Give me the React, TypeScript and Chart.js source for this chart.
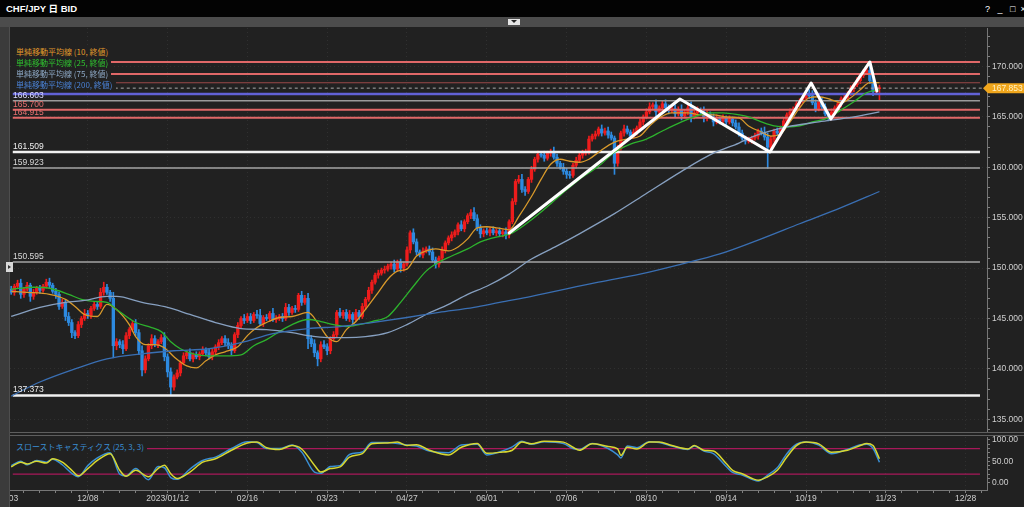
import React, { useEffect, useRef } from 'react';
import { Chart, registerables } from 'chart.js';

Chart.register(...registerables);

const FONT = "'Liberation Sans', Arial, 'Noto Sans CJK JP', sans-serif";
const CJK = "'Noto Sans CJK JP', 'Liberation Sans', sans-serif";

// ---------- data ----------
const dateLabels = ['11/03', '12/08', '2023/01/12', '02/16', '03/23', '04/27', '06/01', '07/06', '08/10', '09/14', '10/19', '11/23', '12/28'];
const dateTickStep = 25; // trading days between date labels

const firstOpen = 147.9;
const closes = [
  147.6, 148.2, 148.5, 147.4, 147.9, 148.3, 147.2, 147.6, 148.0, 147.8, 148.2, 148.6, 148.3, 147.7, 147.4, 146.2, 146.6, 145.2, 144.6, 143.6, 143.3, 144.4, 145.0, 145.5, 145.3,
  146.0, 146.4, 146.2, 147.6, 148.1, 147.6, 147.0, 142.3, 142.7, 142.4, 142.0, 143.3, 143.9, 144.5, 143.6, 141.8, 139.9, 141.0, 142.3, 143.0, 142.4, 142.7, 143.1, 141.2, 139.7,
  138.2, 139.2, 139.6, 140.6, 141.3, 141.6, 141.0, 141.4, 141.2, 141.5, 141.9, 141.6, 141.2, 141.7, 142.2, 142.6, 143.0, 142.6, 142.3, 141.8, 143.4, 144.3, 145.0, 144.8, 145.2,
  144.8, 145.4, 145.3, 144.5, 145.1, 145.0, 145.5, 144.9, 145.0, 145.2, 145.0, 146.1, 145.6, 146.0, 145.9, 147.3, 146.6, 147.0, 143.0, 142.5, 141.6, 141.0, 142.4, 142.2, 141.8,
  143.0, 143.4, 145.6, 145.3, 145.6, 145.0, 145.4, 144.9, 145.6, 145.2, 146.2, 146.9, 147.8, 148.6, 149.3, 149.5, 149.8, 149.9, 150.2, 150.4, 149.9, 150.6, 150.0, 150.4, 151.8,
  153.5, 152.6, 151.6, 151.3, 151.7, 151.9, 151.6, 150.8, 150.4, 151.0, 151.8, 152.5, 153.0, 153.3, 153.6, 154.3, 153.9, 154.6, 155.2, 155.5, 154.9, 154.0, 153.4, 153.7, 153.5,
  153.8, 153.5, 153.7, 153.4, 153.6, 153.3, 154.6, 156.6, 158.6, 158.8, 157.8, 157.6, 158.8, 159.8, 160.8, 161.3, 161.2, 160.9, 161.4, 161.5, 161.0, 160.4, 160.0, 159.6, 159.3,
  159.2, 160.2, 160.7, 161.2, 161.4, 161.6, 162.8, 163.1, 163.3, 163.8, 163.4, 163.6, 163.2, 162.9, 160.4, 161.9, 163.4, 163.8, 163.5, 163.1, 163.5, 163.9, 164.5, 165.0, 165.5,
  166.0, 166.2, 165.5, 165.9, 166.3, 165.9, 165.6, 165.8, 165.3, 165.7, 165.1, 165.5, 165.9, 165.0, 165.4, 165.7, 165.5, 164.9, 165.3, 165.0, 164.5, 164.8, 164.6, 164.9, 164.5,
  164.8, 164.4, 164.0, 163.4, 162.9, 162.6, 162.7, 162.9, 163.1, 163.6, 163.4, 163.0, 162.0, 162.8, 163.6, 163.4, 163.9, 164.6, 165.2, 165.5, 165.8, 166.3, 166.6, 166.9, 167.3,
  167.1, 166.4, 165.8, 166.5, 166.0, 165.3, 164.9, 165.5, 165.9, 166.3, 166.8, 166.9, 167.3, 167.8, 168.2, 168.6, 169.1, 169.4, 169.6, 168.6, 167.5, 167.8, 167.853,
];
const upperWicks = [
  0.3, 0.2, 0.3, 0.4, 0.2, 0.3, 0.2, 0.3, 0.2, 0.3, 0.2, 0.3, 0.4, 0.2, 0.3, 0.2, 0.3, 0.2, 0.4, 0.3, 0.2, 0.3, 0.2, 0.4, 0.3,
  0.2, 0.3, 0.2, 0.4, 0.5, 0.3, 0.2, 0.6, 0.3, 0.2, 0.4, 0.3, 0.2, 0.3, 0.4, 0.3, 0.5, 0.3, 0.2, 0.4, 0.3, 0.2, 0.3, 0.5, 0.3,
  0.4, 0.2, 0.3, 0.2, 0.3, 0.2, 0.4, 0.2, 0.3, 0.2, 0.3, 0.2, 0.4, 0.3, 0.2, 0.3, 0.2, 0.3, 0.4, 0.3, 0.2, 0.3, 0.2, 0.4, 0.3,
  0.3, 0.2, 0.4, 0.6, 0.2, 0.3, 0.2, 0.5, 0.3, 0.2, 0.3, 0.4, 0.3, 0.2, 0.3, 0.2, 0.4, 0.3, 0.5, 0.3, 0.4, 0.2, 0.3, 0.4, 0.3,
  0.2, 0.3, 0.2, 0.4, 0.2, 0.3, 0.4, 0.2, 0.3, 0.2, 0.3, 0.2, 0.3, 0.2, 0.2, 0.3, 0.2, 0.3, 0.2, 0.2, 0.4, 0.2, 0.3, 0.2, 0.3,
  0.2, 0.4, 0.3, 0.2, 0.3, 0.2, 0.3, 0.4, 0.3, 0.2, 0.3, 0.2, 0.2, 0.3, 0.2, 0.2, 0.4, 0.2, 0.2, 0.3, 0.5, 0.4, 0.3, 0.2, 0.3,
  0.2, 0.3, 0.2, 0.3, 0.2, 0.4, 0.2, 0.3, 0.2, 0.4, 0.5, 0.3, 0.2, 0.3, 0.2, 0.3, 0.2, 0.4, 0.2, 0.3, 0.5, 0.3, 0.2, 0.4, 0.3,
  0.3, 0.2, 0.3, 0.2, 0.3, 0.2, 0.3, 0.2, 0.3, 0.2, 0.4, 0.3, 0.4, 0.3, 0.2, 0.3, 0.2, 0.4, 0.3, 0.2, 0.3, 0.2, 0.3, 0.2, 0.3,
  0.4, 0.2, 0.5, 0.2, 0.3, 0.4, 0.3, 0.2, 0.4, 0.3, 0.5, 0.2, 0.3, 0.6, 0.2, 0.3, 0.2, 0.5, 0.3, 0.2, 0.3, 0.4, 0.2, 0.3, 0.2,
  0.3, 0.2, 0.3, 0.4, 0.3, 0.2, 0.3, 0.2, 0.3, 0.2, 0.3, 0.6, 0.4, 0.3, 0.2, 0.3, 0.2, 0.3, 0.2, 0.3, 0.2, 0.3, 0.2, 0.3, 0.2,
  0.4, 0.5, 0.3, 0.2, 0.4, 0.3, 0.2, 0.3, 0.2, 0.3, 0.2, 0.3, 0.2, 0.3, 0.2, 0.3, 0.2, 0.3, 0.4, 0.5, 0.3, 0.4, 0.3,
];
const lowerWicks = [
  0.2, 0.3, 0.2, 0.4, 0.3, 0.2, 0.5, 0.3, 0.2, 0.3, 0.2, 0.2, 0.3, 0.2, 0.4, 0.3, 0.2, 0.4, 0.3, 0.5, 0.3, 0.2, 0.3, 0.2, 0.3,
  0.3, 0.2, 0.3, 0.2, 0.3, 0.2, 0.3, 1.2, 0.4, 0.3, 0.5, 0.2, 0.3, 0.2, 0.3, 0.4, 0.6, 0.3, 0.2, 0.3, 0.2, 0.3, 0.2, 0.4, 0.5,
  0.8, 0.3, 0.2, 0.3, 0.2, 0.3, 0.2, 0.3, 0.2, 0.3, 0.2, 0.3, 0.2, 0.3, 0.2, 0.3, 0.2, 0.3, 0.3, 0.4, 0.2, 0.3, 0.2, 0.3, 0.2,
  0.3, 0.2, 0.3, 0.2, 0.3, 0.2, 0.3, 0.2, 0.3, 0.2, 0.3, 0.2, 0.3, 0.2, 0.3, 0.2, 0.3, 0.2, 1.0, 0.3, 0.4, 0.7, 0.3, 0.2, 0.4,
  0.3, 0.2, 0.3, 0.2, 0.3, 0.2, 0.3, 0.4, 0.2, 0.3, 0.2, 0.3, 0.2, 0.3, 0.2, 0.3, 0.2, 0.3, 0.2, 0.3, 0.3, 0.2, 0.4, 0.3, 0.2,
  0.3, 0.2, 0.3, 0.2, 0.3, 0.2, 0.3, 0.2, 0.4, 0.3, 0.2, 0.3, 0.2, 0.3, 0.2, 0.3, 0.2, 0.3, 0.2, 0.3, 0.2, 0.3, 0.4, 0.3, 0.2,
  0.3, 0.2, 0.3, 0.2, 0.3, 0.4, 0.3, 0.2, 0.3, 0.2, 0.3, 0.4, 0.2, 0.3, 0.2, 0.3, 0.2, 0.3, 0.2, 0.3, 0.2, 0.3, 0.2, 0.3, 0.4,
  0.3, 0.2, 0.3, 0.2, 0.3, 0.2, 0.3, 0.2, 0.3, 0.2, 0.3, 0.2, 0.3, 0.2, 1.1, 0.3, 0.2, 0.3, 0.2, 0.3, 0.2, 0.3, 0.2, 0.3, 0.2,
  0.2, 0.3, 0.4, 0.2, 0.3, 0.2, 0.3, 0.2, 0.3, 0.2, 0.4, 0.2, 0.3, 0.5, 0.2, 0.3, 0.2, 0.4, 0.3, 0.2, 0.4, 0.2, 0.3, 0.2, 0.3,
  0.2, 0.3, 0.2, 0.3, 0.2, 0.3, 0.2, 0.3, 0.2, 0.3, 0.2, 0.3, 2.1, 0.2, 0.3, 0.2, 0.3, 0.2, 0.3, 0.2, 0.3, 0.2, 0.3, 0.2, 0.3,
  0.3, 0.2, 0.3, 0.2, 0.3, 0.2, 0.3, 0.2, 0.3, 0.2, 0.3, 0.2, 0.3, 0.2, 0.3, 0.2, 0.3, 0.2, 0.2, 0.3, 0.4, 0.3, 1.1,
];

const sma10Days = [1, 6, 13, 18, 21, 24, 28, 31, 34, 38, 40, 43, 46, 49, 52, 56, 59, 62, 65, 68, 72, 75, 78, 81, 85, 89, 94, 97, 100, 103, 106, 109, 112, 116, 119, 122, 125, 128, 131, 134, 138, 141, 144, 147, 150, 153, 157, 160, 164, 167, 170, 173, 176, 179, 182, 185, 190, 194, 198, 201, 204, 208, 213, 217, 221, 225, 229, 232, 236, 239, 242, 245, 248, 251, 254, 258, 261, 264, 267, 270, 273];
const sma10Values = [147.7, 147.6, 147.4, 146.9, 146.2, 145.4, 145.2, 146.4, 145.9, 144.4, 143.2, 142.4, 142.4, 142.1, 141.2, 140.3, 140.1, 140.8, 141.4, 141.7, 142.2, 143.3, 144.1, 144.6, 145.1, 145.2, 145.6, 144.6, 143.2, 142.7, 143.9, 144.7, 145.9, 147.6, 148.9, 149.7, 149.9, 151.2, 151.7, 151.9, 151.7, 152.1, 152.9, 154.0, 154.1, 154.0, 153.8, 155.1, 157.1, 158.8, 160.3, 160.8, 160.6, 160.5, 160.8, 161.5, 162.5, 162.8, 163.1, 164.1, 164.9, 165.4, 165.4, 165.2, 165.2, 165.0, 164.9, 164.1, 163.5, 163.1, 163.3, 164.5, 165.9, 166.9, 167.0, 166.7, 166.4, 166.9, 167.7, 168.4, 168.4];
const sma25Days = [1, 8, 13, 19, 23, 27, 31, 34, 40, 45, 48, 51, 54, 58, 63, 68, 73, 77, 81, 85, 89, 94, 98, 102, 106, 110, 114, 119, 123, 127, 131, 135, 139, 144, 148, 152, 158, 164, 169, 174, 179, 185, 190, 195, 200, 205, 211, 215, 219, 224, 229, 232, 236, 240, 244, 248, 252, 257, 261, 265, 269, 273];
const sma25Values = [147.9, 148.1, 148.0, 147.4, 146.9, 146.7, 146.6, 145.9, 144.6, 144.1, 143.7, 142.7, 142.0, 141.5, 141.3, 141.3, 141.4, 142.3, 142.9, 143.7, 144.4, 144.9, 144.7, 144.4, 144.2, 144.4, 144.7, 145.2, 146.6, 148.2, 149.7, 150.6, 151.2, 151.9, 152.6, 153.0, 153.5, 154.8, 156.1, 157.5, 158.8, 160.1, 161.5, 162.3, 162.8, 163.6, 164.5, 165.0, 165.4, 165.4, 165.2, 165.0, 164.5, 164.1, 164.0, 164.1, 164.5, 164.9, 165.7, 166.5, 167.4, 167.7];
const sma75Days = [1, 10, 18, 24, 31, 34, 42, 50, 57, 65, 73, 81, 89, 94, 100, 106, 112, 119, 125, 131, 138, 144, 150, 157, 164, 172, 179, 190, 200, 211, 221, 229, 233, 244, 254, 265, 273];
const sma75Values = [145.2, 146.1, 146.6, 146.8, 147.2, 147.2, 146.6, 146.1, 145.4, 144.6, 144.0, 143.9, 143.6, 143.3, 143.1, 143.1, 143.2, 143.6, 144.4, 145.4, 146.4, 147.4, 148.2, 149.4, 150.9, 152.2, 153.4, 155.4, 157.4, 159.6, 161.4, 162.4, 163.0, 164.0, 164.5, 165.0, 165.5];
const sma200Days = [1, 10, 21, 31, 42, 52, 63, 73, 83, 94, 104, 114, 125, 135, 146, 154, 164, 185, 198, 211, 223, 236, 248, 261, 273];
const sma200Values = [137.3, 138.7, 140.0, 141.0, 141.5, 141.8, 142.0, 142.6, 143.5, 144.0, 144.2, 144.6, 145.1, 145.6, 146.1, 146.6, 147.2, 148.6, 149.4, 150.4, 151.4, 152.9, 154.4, 156.0, 157.6];

const stochDays = [1, 4, 6, 9, 12, 14, 17, 20, 22, 25, 28, 32, 35, 37, 40, 44, 47, 49, 51, 53, 57, 61, 65, 70, 75, 78, 81, 85, 89, 92, 96, 98, 101, 104, 107, 111, 114, 119, 122, 125, 128, 132, 138, 142, 147, 150, 154, 158, 161, 164, 168, 174, 177, 179, 183, 188, 191, 192, 194, 197, 201, 204, 208, 213, 215, 218, 221, 225, 227, 230, 235, 238, 241, 244, 247, 250, 254, 258, 263, 267, 269, 271, 273];
const stochK = [40, 50, 42, 52, 48, 55, 42, 22, 14, 40, 58, 70, 20, 16, 33, 7, 38, 35, 12, 8, 32, 52, 60, 80, 96, 94, 80, 80, 88, 72, 25, 22, 38, 40, 66, 72, 94, 94, 92, 88, 86, 74, 70, 88, 90, 65, 72, 84, 97, 90, 96, 92, 80, 78, 92, 80, 65, 58, 86, 82, 96, 94, 86, 78, 86, 74, 68, 38, 24, 18, 4, 18, 35, 68, 90, 95, 88, 68, 78, 89, 90, 80, 48];
const stochD = [37, 48, 44, 50, 46, 56, 48, 29, 16, 33, 52, 68, 29, 15, 29, 14, 33, 41, 21, 10, 25, 48, 56, 76, 93, 95, 82, 78, 87, 79, 41, 25, 33, 37, 60, 68, 91, 93, 95, 87, 89, 76, 65, 83, 92, 69, 71, 76, 95, 91, 97, 95, 83, 76, 91, 85, 79, 64, 83, 79, 95, 95, 87, 79, 87, 76, 74, 45, 29, 21, 6, 14, 29, 60, 87, 95, 91, 71, 76, 87, 92, 87, 56];
const stochLevels = [80, 20];

const levelValues = [170.45, 169.26, 168.39, 167.853, 167.27, 166.603, 165.7, 164.915, 161.509, 159.923, 150.595, 137.373];
const levelLabels = ['', '', '', '', '', '166.603', '165.700', '164.915', '161.509', '159.923', '150.595', '137.373'];

const zigzagDays = [157, 210.5, 238.7, 251.6, 257.8, 270, 272.2];
const zigzagValues = [153.48, 166.78, 161.52, 168.36, 164.79, 170.45, 167.57];

const lastPrice = 167.853;

// ---------- styles / layout ----------
const X_MIN = 0.63;
const X_MAX = 306.7;
const LEVEL_START = 1.5;
const LEVEL_END = 304.5;
const UP = '#ee1c1c';
const DOWN = '#2d8ae0';
const RED_LINE = '#e06868';
const levelStyles = [
  { color: RED_LINE, width: 2 },
  { color: RED_LINE, width: 2 },
  { color: '#9a4848', width: 1.2 },
  { color: '#a8a8a8', width: 1, dash: [3, 3] },
  { color: '#6262d6', width: 2.5 },
  { color: '#9a9a9a', width: 1.5 },
  { color: RED_LINE, width: 2 },
  { color: RED_LINE, width: 2 },
  { color: '#f0f0f0', width: 2.5 },
  { color: '#a4a4a4', width: 1.5 },
  { color: '#a4a4a4', width: 1.5 },
  { color: '#f0f0f0', width: 2.5 },
];
const levelLabelColors = ['', '', '', '', '', '#dcdcff', '#e87070', '#e87070', '#eeeeee', '#d8d8d8', '#d8d8d8', '#eeeeee'];
const maLegend = [
  { text: '単純移動平均線 (10, 終値)', color: '#e09a2c' },
  { text: '単純移動平均線 (25, 終値)', color: '#2fc22f' },
  { text: '単純移動平均線 (75, 終値)', color: '#8ea9c6' },
  { text: '単純移動平均線 (200, 終値)', color: '#4a82d6' },
];
const TICK_COLOR = '#cfcfcf';
const GRID = 'rgba(255,255,255,0.07)';

function pts(days: number[], vals: number[]) {
  return days.map((d, k) => ({ x: d, y: vals[k] }));
}

function mainConfig(): any {
  const opens = closes.map((c, k) => (k === 0 ? firstOpen : closes[k - 1]));
  const bodyData = closes.map((c, k) => ({ x: k + 1, y: [opens[k], c] }));
  const wickData = closes.map((c, k) => ({
    x: k + 1,
    y: [Math.min(opens[k], c) - lowerWicks[k], Math.max(opens[k], c) + upperWicks[k]],
  }));
  const colors = closes.map((c, k) => (c >= opens[k] ? UP : DOWN));

  const levelSets = levelValues.map((v, k) => ({
    type: 'line',
    data: [{ x: LEVEL_START, y: v }, { x: k === 3 ? X_MAX : LEVEL_END, y: v }],
    borderColor: levelStyles[k].color,
    borderWidth: levelStyles[k].width,
    borderDash: levelStyles[k].dash || [],
    pointRadius: 0,
    order: 2,
  }));
  const ma = (days: number[], vals: number[], color: string) => ({
    type: 'line',
    data: pts(days, vals),
    borderColor: color,
    borderWidth: 1.3,
    pointRadius: 0,
    cubicInterpolationMode: 'monotone',
    order: 1,
  });

  const labelPlugin = {
    id: 'levelLabels',
    afterDraw(chart: any) {
      const { ctx, chartArea, scales } = chart;
      const y = scales.y;
      ctx.save();
      ctx.font = `8.5px ${FONT}`;
      ctx.textAlign = 'left';
      ctx.textBaseline = 'alphabetic';
      levelValues.forEach((v, k) => {
        if (!levelLabels[k]) return;
        ctx.fillStyle = levelLabelColors[k];
        ctx.fillText(levelLabels[k], chartArea.left + 3, y.getPixelForValue(v) - 3);
      });
      const py = y.getPixelForValue(lastPrice);
      const x0 = chartArea.right - 4;
      ctx.fillStyle = '#f0a61c';
      ctx.beginPath();
      ctx.moveTo(x0, py);
      ctx.lineTo(x0 + 5, py - 5);
      ctx.lineTo(1024, py - 5);
      ctx.lineTo(1024, py + 5);
      ctx.lineTo(x0 + 5, py + 5);
      ctx.closePath();
      ctx.fill();
      ctx.fillStyle = '#fff1c2';
      ctx.textBaseline = 'middle';
      ctx.fillText(lastPrice.toFixed(3), chartArea.right + 5, py + 0.5);
      ctx.restore();
    },
  };

  return {
    type: 'bar',
    data: {
      datasets: [
        { type: 'bar', data: wickData, backgroundColor: colors, barThickness: 1, grouped: false, order: 4, borderWidth: 0 },
        { type: 'bar', data: bodyData, backgroundColor: colors, barThickness: 2.7, grouped: false, order: 3, borderWidth: 0, minBarLength: 1 },
        ...levelSets,
        ma(sma200Days, sma200Values, '#3a6fb3'),
        ma(sma75Days, sma75Values, '#87a0c0'),
        ma(sma25Days, sma25Values, '#2db32d'),
        ma(sma10Days, sma10Values, '#d99a2b'),
        {
          type: 'line',
          data: pts(zigzagDays, zigzagValues),
          borderColor: '#ffffff',
          borderWidth: 3,
          pointRadius: 0,
          tension: 0,
          borderJoinStyle: 'round',
          borderCapStyle: 'round',
          order: 0,
        },
      ],
    },
    options: {
      responsive: false,
      maintainAspectRatio: false,
      devicePixelRatio: 1,
      animation: false,
      events: [],
      layout: { padding: { left: 10, right: 0, top: 1, bottom: 1 } },
      plugins: { legend: { display: false }, tooltip: { enabled: false } },
      scales: {
        x: {
          type: 'linear',
          min: X_MIN,
          max: X_MAX,
          offset: false,
          afterBuildTicks: (s: any) => {
            s.ticks = dateLabels.map((_, k) => ({ value: k * dateTickStep }));
          },
          afterFit: (s: any) => {
            s.height = 0;
            s.paddingLeft = 0;
            s.paddingRight = 0;
          },
          ticks: { display: false },
          grid: { color: GRID, drawTicks: false, offset: false },
          border: { display: false, dash: [1, 3] },
        },
        y: {
          type: 'linear',
          position: 'right',
          min: 133.74,
          max: 173.82,
          afterBuildTicks: (s: any) => {
            const t = [];
            for (let v = 134; v <= 173; v += 1) t.push({ value: v });
            s.ticks = t;
          },
          afterFit: (s: any) => {
            s.width = 37;
            s.paddingTop = 0;
            s.paddingBottom = 0;
          },
          ticks: {
            autoSkip: false,
            color: TICK_COLOR,
            padding: 2,
            font: { family: FONT, size: 8.5 },
            callback: (v: number) => (v % 5 === 0 ? v.toFixed(3) : ''),
          },
          grid: {
            color: (ctx: any) => (ctx.tick && ctx.tick.value % 5 === 0 ? GRID : 'rgba(0,0,0,0)'),
            tickColor: '#808080',
            tickLength: 3,
          },
          border: { display: true, color: '#777777', dash: [1, 3] },
        },
      },
    },
    plugins: [labelPlugin],
  };
}

function stochConfig(): any {
  return {
    type: 'line',
    data: {
      datasets: [
        ...stochLevels.map((v) => ({
          data: [{ x: LEVEL_START, y: v }, { x: LEVEL_END, y: v }],
          borderColor: '#a8185a',
          borderWidth: 1.3,
          pointRadius: 0,
          order: 3,
        })),
        { data: pts(stochDays, stochK), borderColor: '#3a8fd4', borderWidth: 1.5, pointRadius: 0, cubicInterpolationMode: 'monotone', order: 2 },
        { data: pts(stochDays, stochD), borderColor: '#d8d830', borderWidth: 1.5, pointRadius: 0, cubicInterpolationMode: 'monotone', order: 1 },
      ],
    },
    options: {
      responsive: false,
      maintainAspectRatio: false,
      devicePixelRatio: 1,
      animation: false,
      events: [],
      layout: { padding: { left: 10, right: 0, top: 1, bottom: 0 } },
      plugins: { legend: { display: false }, tooltip: { enabled: false } },
      scales: {
        x: {
          type: 'linear',
          min: X_MIN,
          max: X_MAX,
          offset: false,
          afterBuildTicks: (s: any) => {
            const t = [];
            for (let v = 0; v <= X_MAX; v += 5) t.push({ value: v });
            s.ticks = t;
          },
          afterFit: (s: any) => {
            s.height = 17;
            s.paddingLeft = 0;
            s.paddingRight = 0;
          },
          ticks: {
            autoSkip: false,
            maxRotation: 0,
            minRotation: 0,
            color: TICK_COLOR,
            padding: 1,
            font: { family: FONT, size: 8.5 },
            callback: (v: number) => (v % dateTickStep === 0 ? dateLabels[v / dateTickStep] : ''),
          },
          grid: {
            color: (ctx: any) => (ctx.tick && ctx.tick.value % dateTickStep === 0 ? GRID : 'rgba(0,0,0,0)'),
            tickColor: '#808080',
            tickLength: 3,
            offset: false,
          },
          border: { display: true, color: '#777777', dash: [1, 3] },
        },
        y: {
          type: 'linear',
          position: 'right',
          min: -17.1,
          max: 107,
          afterBuildTicks: (s: any) => {
            const t = [];
            for (let v = 0; v <= 100; v += 10) t.push({ value: v });
            s.ticks = t;
          },
          afterFit: (s: any) => {
            s.width = 37;
            s.paddingTop = 0;
            s.paddingBottom = 0;
          },
          ticks: {
            autoSkip: false,
            color: TICK_COLOR,
            padding: 2,
            font: { family: FONT, size: 8.5 },
            callback: (v: number) => (v % 50 === 0 ? v.toFixed(2) : ''),
          },
          grid: { color: 'rgba(0,0,0,0)', tickColor: '#808080', tickLength: 3 },
          border: { display: true, color: '#777777' },
        },
      },
    },
  };
}

export default function App() {
  const mainRef = useRef<HTMLCanvasElement>(null);
  const stochRef = useRef<HTMLCanvasElement>(null);

  useEffect(() => {
    document.body.style.margin = '0';
    const main = new Chart(mainRef.current as HTMLCanvasElement, mainConfig());
    const st = new Chart(stochRef.current as HTMLCanvasElement, stochConfig());
    return () => {
      main.destroy();
      st.destroy();
    };
  }, []);

  const abs = (s: any) => ({ position: 'absolute', ...s });

  return (
    <div style={{ position: 'relative', width: 1024, height: 507, background: '#212121', overflow: 'hidden', fontFamily: FONT }}>
      <canvas ref={mainRef} width={1024} height={406} style={abs({ left: 0, top: 27 })} />
      <canvas ref={stochRef} width={1024} height={71} style={abs({ left: 0, top: 436 })} />

      {/* title bar */}
      <div style={abs({ left: 0, top: 0, width: 1024, height: 17, background: '#030303' })} />
      <div style={abs({ left: 6, top: 3, height: 12, lineHeight: '12px', color: '#ffffff', fontSize: 9.5, fontWeight: 'bold', fontFamily: "'Liberation Sans', Arial, 'Noto Sans CJK JP', sans-serif" })}>
        CHF/JPY 日 BID
      </div>
      <div style={abs({ left: 985, top: 3, height: 12, lineHeight: '12px', color: '#ffffff', fontSize: 9, whiteSpace: 'pre' })}>
        {'?   _   □  ×'}
      </div>
      {/* tool band */}
      <div style={abs({ left: 0, top: 17, width: 1024, height: 10, background: '#4c4c4c' })} />
      <div style={abs({ left: 508, top: 19, width: 12, height: 6, background: '#e4e4e4' })} />
      <div style={abs({ left: 511, top: 20, width: 0, height: 0, borderLeft: '3px solid transparent', borderRight: '3px solid transparent', borderTop: '3px solid #222' })} />
      {/* left strip */}
      <div style={abs({ left: 0, top: 27, width: 9, height: 480, background: '#3b3b3b' })} />
      <div style={abs({ left: 9, top: 27, width: 1, height: 480, background: '#4e4e4e' })} />
      <div style={abs({ left: 6, top: 262, width: 7, height: 10, background: '#d8d8d8' })} />
      <div style={abs({ left: 8, top: 265, width: 0, height: 0, borderTop: '2px solid transparent', borderBottom: '2px solid transparent', borderLeft: '3px solid #333' })} />
      {/* panel separators */}
      <div style={abs({ left: 10, top: 432, width: 1014, height: 1, background: '#5e5e5e' })} />
      <div style={abs({ left: 10, top: 435, width: 1014, height: 1, background: '#5e5e5e' })} />

      {/* MA legend */}
      {maLegend.map((m, k) => (
        <div
          key={k}
          style={abs({
            left: 12,
            top: 46 + k * 11,
            height: 11,
            lineHeight: '11px',
            padding: '0 3px 0 4px',
            background: '#212121',
            color: m.color,
            fontSize: 8,
            fontFamily: CJK,
            whiteSpace: 'nowrap',
          })}
        >
          {m.text}
        </div>
      ))}
      {/* stochastic legend */}
      <div
        style={abs({
          left: 12,
          top: 441,
          height: 11,
          lineHeight: '11px',
          padding: '0 3px 0 4px',
          background: '#212121',
          color: '#3a8fd4',
          fontSize: 8,
          fontFamily: CJK,
          whiteSpace: 'nowrap',
        })}
      >
        スローストキャスティクス (25, 3, 3)
      </div>
    </div>
  );
}
